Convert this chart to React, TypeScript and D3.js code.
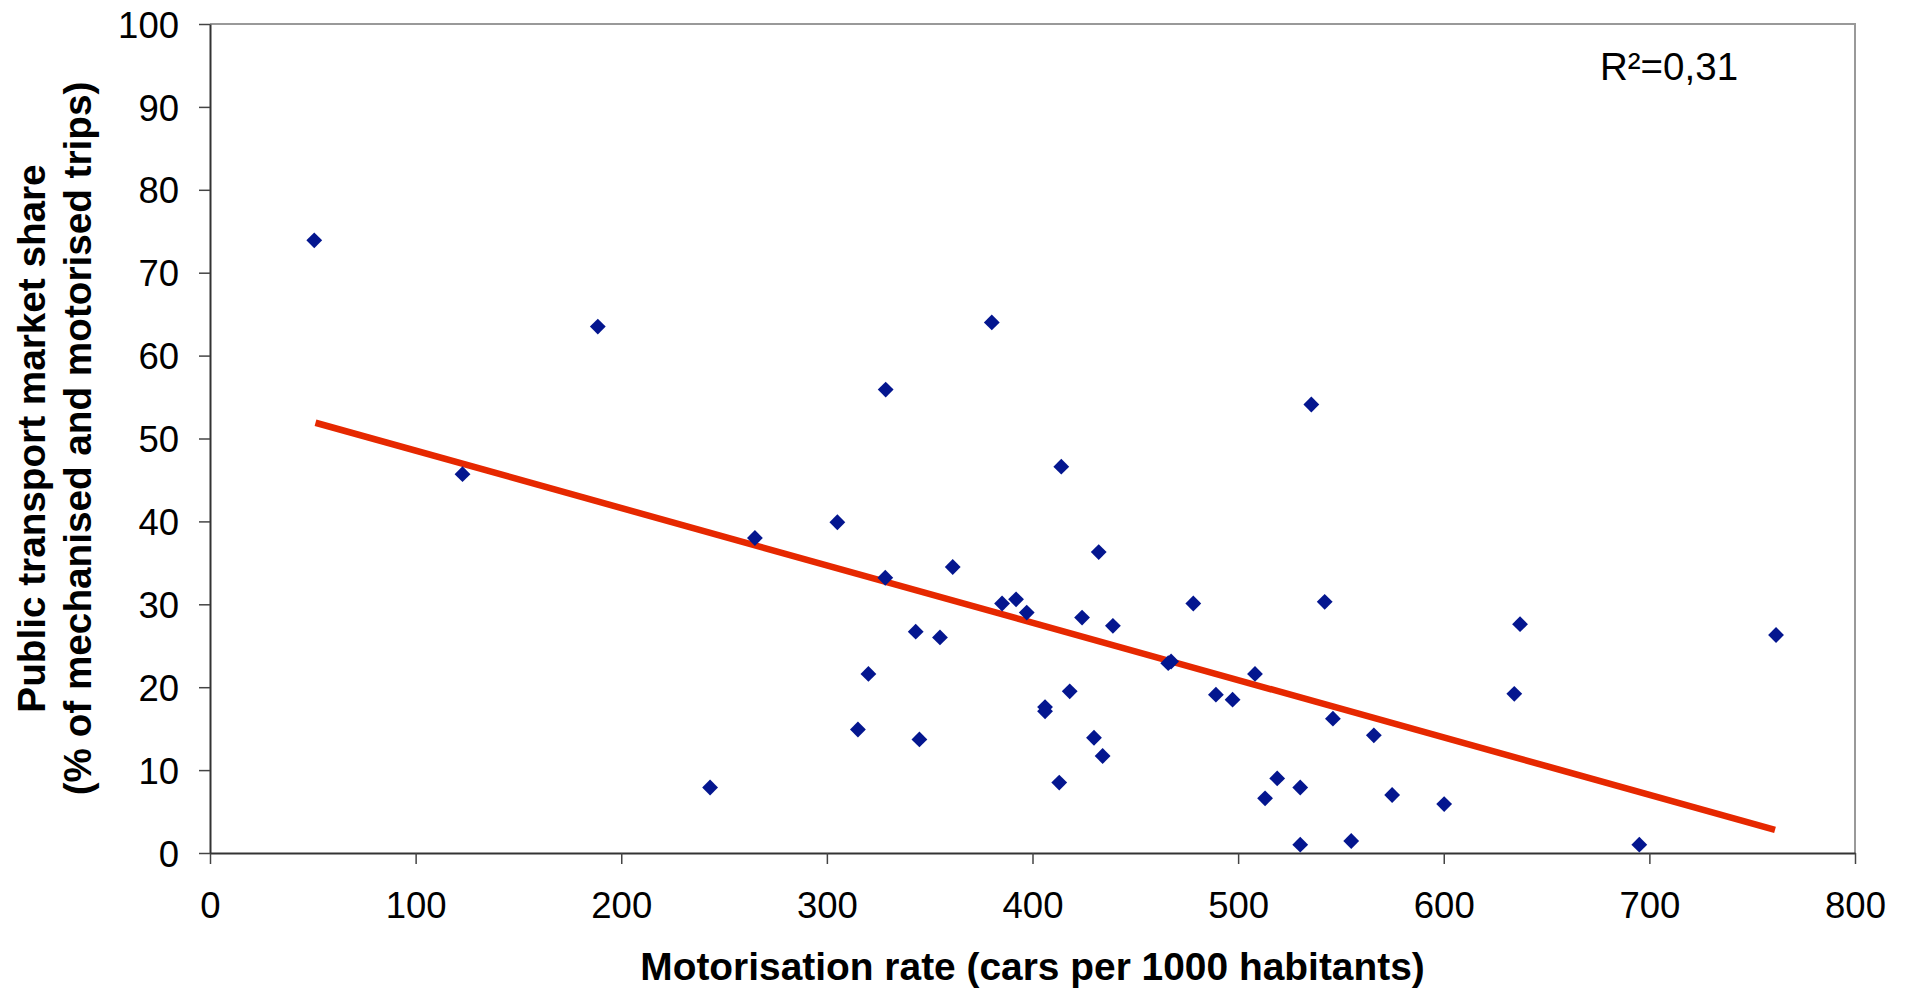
import React, { useEffect, useRef } from 'react';
import * as d3 from 'd3';

// cars per 1000 habitants
const motorisation = [
  50.7, 122.8, 188.6, 243.2, 265.0, 305.1, 315.1, 320.2, 328.6, 328.4,
  343.2, 345.0, 355.0, 361.2, 380.2, 385.2, 392.0, 397.2, 406.1, 406.1,
  413.0, 414.0, 418.1, 424.1, 429.9, 432.2, 434.1, 439.1, 466.0, 467.4,
  478.2, 489.2, 497.3, 508.2, 513.1, 519.0, 530.2, 530.2, 535.6, 542.1,
  546.1, 555.0, 566.0, 574.9, 600.2, 634.3, 637.1, 695.1, 761.6
];
// public transport share (%)
const ptShare = [
  73.9, 45.7, 63.5, 7.9, 38.0, 39.9, 14.9, 21.6, 55.9, 33.2,
  26.7, 13.7, 26.0, 34.5, 64.0, 30.1, 30.6, 29.0, 17.6, 17.1,
  8.5, 46.6, 19.5, 28.4, 13.9, 36.3, 11.7, 27.4, 22.9, 23.1,
  30.1, 19.1, 18.5, 21.6, 6.6, 9.0, 7.9, 1.0, 54.1, 30.3,
  16.2, 1.45, 14.2, 7.0, 5.9, 19.2, 27.6, 1.0, 26.3
];

const xTicks = [0, 100, 200, 300, 400, 500, 600, 700, 800];
const yTicks = [0, 10, 20, 30, 40, 50, 60, 70, 80, 90, 100];

// linear trend (end points)
const trendX = [51.3, 761.1];
const trendY = [51.9, 2.8];
const r2Label = 'R²=0,31';

const W = 1910, H = 992;
const margin = { left: 210, top: 24, right: 55, bottom: 139 };

export default function App() {
  const ref = useRef<SVGSVGElement>(null);

  useEffect(() => {
    const svg = d3.select(ref.current);
    svg.selectAll('*').remove();

    const x = d3.scaleLinear().domain([0, 800]).range([margin.left, W - margin.right]);
    const y = d3.scaleLinear().domain([0, 100]).range([H - margin.bottom, margin.top]);
    const font = '"Liberation Sans", Arial, sans-serif';

    // plot frame (top / right in light grey)
    svg.append('path')
      .attr('d', `M${x(0)},${y(100)}H${x(800)}V${y(0)}`)
      .attr('fill', 'none')
      .attr('stroke', '#999')
      .attr('stroke-width', 2);

    const xAxis = svg.append('g')
      .attr('transform', `translate(0,${y(0)})`)
      .call(d3.axisBottom(x).tickValues(xTicks).tickSize(11).tickPadding(28).tickSizeOuter(0));
    const yAxis = svg.append('g')
      .attr('transform', `translate(${x(0)},0)`)
      .call(d3.axisLeft(y).tickValues(yTicks).tickSize(11).tickPadding(20).tickSizeOuter(0));

    [xAxis, yAxis].forEach(a => {
      a.select('.domain').attr('stroke', '#333').attr('stroke-width', 2);
      a.selectAll('.tick line').attr('stroke', '#444').attr('stroke-width', 1.5);
      a.selectAll('.tick text')
        .attr('fill', '#000')
        .style('font-family', font)
        .style('font-size', '36.5px');
    });
    xAxis.selectAll('.tick text').attr('dy', null).attr('dominant-baseline', 'hanging');
    yAxis.selectAll('.tick text').attr('dy', '0.36em');

    // trend line
    const line = d3.line<number>()
      .x(d => x(d))
      .y((d, i) => y(trendY[i]));
    svg.append('path')
      .attr('d', line(trendX))
      .attr('fill', 'none')
      .attr('stroke', '#e62800')
      .attr('stroke-width', 6.5);

    // points
    const sym = d3.symbol().type(d3.symbolSquare).size(125);
    svg.append('g').selectAll('path')
      .data(motorisation)
      .join('path')
      .attr('d', sym())
      .attr('transform', (d, i) => `translate(${x(d)},${y(ptShare[i])}) rotate(45)`)
      .attr('fill', '#04168f');

    // R²
    svg.append('text')
      .attr('x', 1600)
      .attr('y', 80)
      .style('font-family', font)
      .style('font-size', '38.5px')
      .text(r2Label);

    // axis titles
    svg.append('text')
      .attr('x', (x(0) + x(800)) / 2)
      .attr('y', 980)
      .attr('text-anchor', 'middle')
      .style('font-family', font)
      .style('font-size', '38.9px')
      .style('font-weight', 'bold')
      .text('Motorisation rate (cars per 1000 habitants)');

    const cy = (y(0) + y(100)) / 2;
    const yt = svg.append('text')
      .attr('transform', `translate(45,${cy}) rotate(-90)`)
      .attr('text-anchor', 'middle')
      .style('font-family', font)
      .style('font-size', '38.7px')
      .style('font-weight', 'bold');
    yt.append('tspan').attr('x', 0).attr('y', 0).text('Public transport market share');
    yt.append('tspan').attr('x', 0).attr('y', 46).text('(% of mechanised and motorised trips)');
  }, []);

  return (
    <svg ref={ref} width={W} height={H}
      style={{ position: 'absolute', left: 0, top: 0, background: '#fff' }} />
  );
}
